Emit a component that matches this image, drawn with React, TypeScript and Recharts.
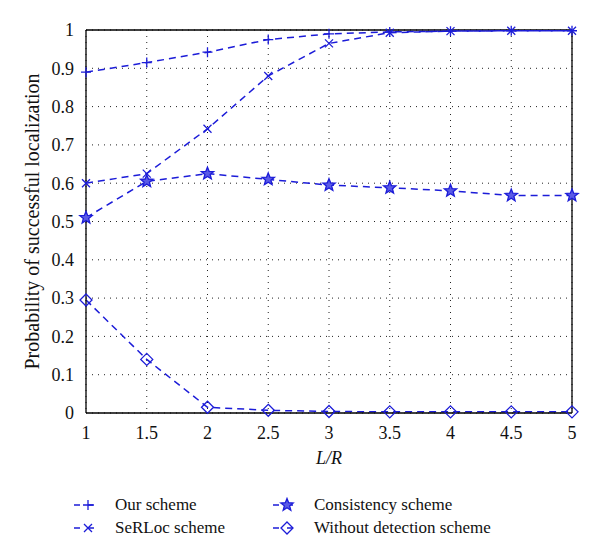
import React from "react"
import { LineChart, Line, XAxis, YAxis, CartesianGrid, ReferenceLine } from "recharts"

const ratios = [1, 1.5, 2, 2.5, 3, 3.5, 4, 4.5, 5]
const ourScheme = [0.89, 0.915, 0.942, 0.975, 0.99, 0.995, 0.997, 0.998, 0.998]
const serlocScheme = [0.6, 0.625, 0.742, 0.88, 0.965, 0.993, 0.997, 0.998, 0.998]
const consistencyScheme = [0.51, 0.605, 0.625, 0.61, 0.595, 0.588, 0.58, 0.568, 0.568]
const withoutDetection = [0.295, 0.14, 0.015, 0.007, 0.004, 0.003, 0.003, 0.003, 0.003]

const xTicks = [1, 1.5, 2, 2.5, 3, 3.5, 4, 4.5, 5]
const yTicks = [0, 0.1, 0.2, 0.3, 0.4, 0.5, 0.6, 0.7, 0.8, 0.9, 1]

const data = ratios.map((r, i) => ({
  r,
  our: ourScheme[i],
  serloc: serlocScheme[i],
  consistency: consistencyScheme[i],
  without: withoutDetection[i],
}))

const BLUE = "#1c1cd8"
const FONT = "Liberation Serif, Times New Roman, Tinos, DejaVu Serif, Noto Serif, serif"

type Shape = "plus" | "cross" | "star" | "diamond"

function Marker({ shape, cx, cy }: { shape: Shape; cx: number; cy: number }) {
  if (shape === "plus") {
    return (
      <path d={`M${cx - 5},${cy}H${cx + 5}M${cx},${cy - 5}V${cy + 5}`} stroke={BLUE} strokeWidth={1.3} fill="none" />
    )
  }
  if (shape === "cross") {
    return (
      <path d={`M${cx - 4},${cy - 4}L${cx + 4},${cy + 4}M${cx - 4},${cy + 4}L${cx + 4},${cy - 4}`} stroke={BLUE} strokeWidth={1.3} fill="none" />
    )
  }
  if (shape === "diamond") {
    return (
      <path d={`M${cx},${cy - 6}L${cx + 6},${cy}L${cx},${cy + 6}L${cx - 6},${cy}Z`} stroke={BLUE} strokeWidth={1.3} fill="none" />
    )
  }
  const pts: string[] = []
  for (let k = 0; k < 10; k++) {
    const rad = k % 2 === 0 ? 6.5 : 2.8
    const a = -Math.PI / 2 + (k * Math.PI) / 5
    pts.push(`${cx + rad * Math.cos(a)},${cy + rad * Math.sin(a)}`)
  }
  return <polygon points={pts.join(" ")} stroke={BLUE} strokeWidth={1.3} fill="#5a5ae6" />
}

const makeDot = (shape: Shape) => (props: any) => {
  const { cx, cy, index } = props
  if (cx == null || cy == null) return <g key={index} />
  return <Marker key={index} shape={shape} cx={cx} cy={cy} />
}

const series: { key: string; name: string; shape: Shape }[] = [
  { key: "our", name: "Our scheme", shape: "plus" },
  { key: "serloc", name: "SeRLoc scheme", shape: "cross" },
  { key: "consistency", name: "Consistency scheme", shape: "star" },
  { key: "without", name: "Without detection scheme", shape: "diamond" },
]

function LegendItem({ name, shape }: { name: string; shape: Shape }) {
  return (
    <div style={{ display: "flex", alignItems: "center", height: 23 }}>
      <svg width={30} height={16} style={{ marginRight: 12 }}>
        <line x1={1} y1={8} x2={29} y2={8} stroke={BLUE} strokeWidth={1.5} strokeDasharray="6 8" />
        <Marker shape={shape} cx={15} cy={8} />
      </svg>
      <span>{name}</span>
    </div>
  )
}

const tickStyle = { fill: "#111", fontSize: 18, fontFamily: FONT }

export default function App() {
  return (
    <div style={{ position: "relative", width: 600, height: 560, margin: -8, background: "#fff", fontFamily: FONT }}>
      <LineChart width={600} height={560} data={data} margin={{ top: 30, right: 28, bottom: 117, left: 16 }}>
        <CartesianGrid stroke="#222" strokeDasharray="1 5" />
        <XAxis
          dataKey="r"
          type="number"
          domain={[1, 5]}
          ticks={xTicks}
          height={30}
          tickLine={false}
          axisLine={{ stroke: "#000", strokeWidth: 1.3 }}
          tick={tickStyle}
          tickMargin={7}
          label={{ value: "L/R", position: "bottom", offset: 8, style: { fontStyle: "italic", fontSize: 18, fill: "#111", fontFamily: FONT } }}
        />
        <YAxis
          type="number"
          domain={[0, 1]}
          ticks={yTicks}
          width={70}
          tickLine={false}
          axisLine={{ stroke: "#000", strokeWidth: 1.3 }}
          tick={tickStyle}
          tickMargin={6}
          label={{
            value: "Probability of successful localization",
            angle: -90,
            position: "insideLeft",
            offset: 16,
            style: { textAnchor: "middle", fontSize: 20, fill: "#111", fontFamily: FONT },
          }}
        />
        <ReferenceLine y={1} stroke="#000" strokeWidth={1.3} />
        <ReferenceLine x={5} stroke="#000" strokeWidth={1.3} />
        {series.map((s) => (
          <Line
            key={s.key}
            dataKey={s.key}
            name={s.name}
            type="linear"
            stroke={BLUE}
            strokeWidth={1.5}
            strokeDasharray="7 5"
            dot={makeDot(s.shape)}
            isAnimationActive={false}
          />
        ))}
      </LineChart>
      <div style={{ position: "absolute", left: 73, top: 493, fontSize: 17, color: "#111", display: "flex" }}>
        <div style={{ width: 199 }}>
          <LegendItem name={series[0].name} shape={series[0].shape} />
          <LegendItem name={series[1].name} shape={series[1].shape} />
        </div>
        <div>
          <LegendItem name={series[2].name} shape={series[2].shape} />
          <LegendItem name={series[3].name} shape={series[3].shape} />
        </div>
      </div>
    </div>
  )
}
